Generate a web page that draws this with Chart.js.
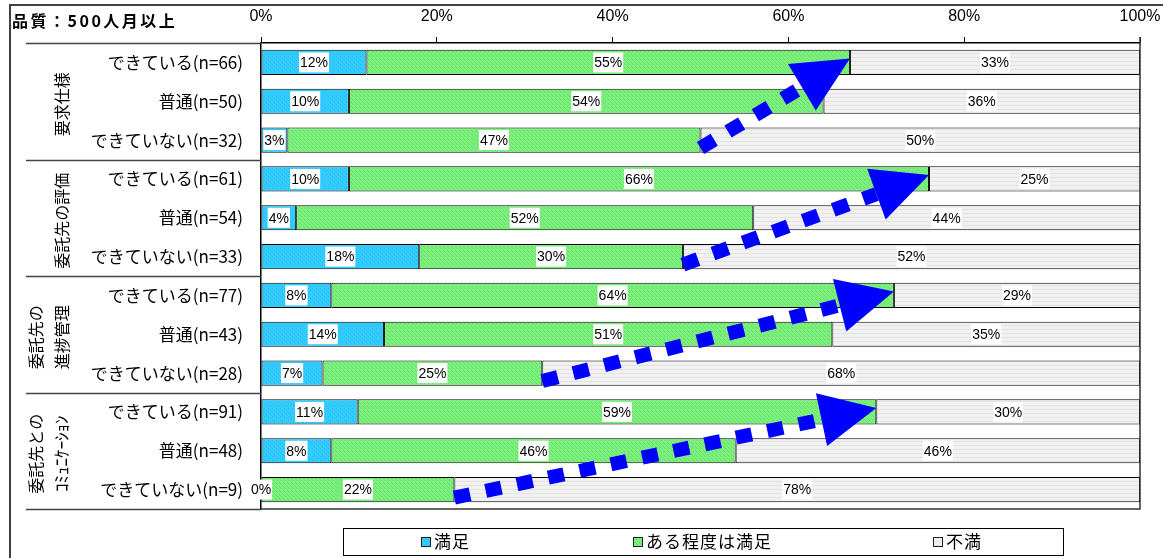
<!DOCTYPE html>
<html lang="ja">
<head>
<meta charset="utf-8">
<title>品質：500人月以上</title>
<script src="https://cdn.jsdelivr.net/npm/chart.js@4.4.1/dist/chart.umd.min.js"></script>
<style>
  html, body { margin: 0; padding: 0; background: #fff; }
  #wrap { position: relative; width: 1163px; height: 558px; }
</style>
</head>
<body>
<div id="wrap"><canvas id="quality-chart"></canvas></div>
<script>
const titleText = '品質：500人月以上';
const rowLabels = [
  'できている(n=66)', '普通(n=50)', 'できていない(n=32)',
  'できている(n=61)', '普通(n=54)', 'できていない(n=33)',
  'できている(n=77)', '普通(n=43)', 'できていない(n=28)',
  'できている(n=91)', '普通(n=48)', 'できていない(n=9)'
];
const groupLabels = [
  ['要求仕様'],
  ['委託先の評価'],
  ['委託先の', '進捗管理'],
  ['委託先との', 'ｺﾐｭﾆｹｰｼｮﾝ']
];
const seriesNames = ['満足', 'ある程度は満足', '不満'];
const satisfied   = [12, 10, 3, 10, 4, 18, 8, 14, 7, 11, 8, 0];
const partly      = [55, 54, 47, 66, 52, 30, 64, 51, 25, 59, 46, 22];
const unsatisfied = [33, 36, 50, 25, 44, 52, 29, 35, 68, 30, 46, 78];

const JP = '"Noto Sans CJK JP", "Noto Sans", sans-serif';
const NUM = '"Liberation Sans", Arial, sans-serif';

// small tiled fills, like the old office chart textures
function makePattern(base, mark, kind) {
  const c = document.createElement('canvas');
  c.width = 4; c.height = 4;
  const g = c.getContext('2d');
  g.fillStyle = base;
  g.fillRect(0, 0, 4, 4);
  g.fillStyle = mark;
  if (kind === 'dots') {
    g.fillRect(0, 0, 1, 1); g.fillRect(2, 2, 1, 1);
  } else if (kind === 'check') {
    g.fillRect(1, 0, 1, 1); g.fillRect(3, 2, 1, 1); g.fillRect(0, 3, 1, 1);
  } else {
    g.fillRect(0, 1, 4, 1);
  }
  return g.createPattern(c, 'repeat');
}
const blueFill  = makePattern('#33ccff', '#2ab8ee', 'dots');
const greenFill = makePattern('#7cf07c', '#66dd66', 'check');
const greyFill  = makePattern('#f1f1f1', '#e2e2e2', 'lines');

// percentage labels in white boxes at the middle of each segment
const segmentLabels = {
  id: 'segmentLabels',
  afterDatasetsDraw(chart) {
    const ctx = chart.ctx;
    const area = chart.chartArea;
    ctx.save();
    ctx.font = '14px ' + NUM;
    ctx.textAlign = 'center';
    ctx.textBaseline = 'middle';
    chart.data.datasets.forEach((ds, di) => {
      chart.getDatasetMeta(di).data.forEach((bar, i) => {
        const a = Math.max(Math.min(bar.x, bar.base), area.left);
        const b = Math.min(Math.max(bar.x, bar.base), area.right);
        const cx = (a + b) / 2;
        const txt = ds.data[i] + '%';
        const w = ctx.measureText(txt).width + 2;
        ctx.fillStyle = '#fff';
        ctx.fillRect(cx - w / 2, bar.y - 10, w, 20);
        ctx.fillStyle = '#000';
        ctx.fillText(txt, cx, bar.y + 1);
      });
    });
    ctx.restore();
  }
};

// frame, title, group labels, separators, legend
const decorations = {
  id: 'decorations',
  afterDraw(chart) {
    const ctx = chart.ctx;
    const area = chart.chartArea;
    const yS = chart.scales.y;
    const rowH = (area.bottom - area.top) / rowLabels.length;
    ctx.save();

    // outer frame
    ctx.strokeStyle = '#404040';
    ctx.lineWidth = 2;
    ctx.beginPath();
    ctx.moveTo(10, 560); ctx.lineTo(10, 5); ctx.lineTo(1165, 5);
    ctx.stroke();

    // plot border
    ctx.strokeStyle = '#333';
    ctx.lineWidth = 1.5;
    ctx.beginPath();
    ctx.moveTo(area.right, area.top - 6); ctx.lineTo(area.right, area.bottom);
    ctx.lineTo(area.left, area.bottom);
    ctx.stroke();

    // title
    ctx.fillStyle = '#000';
    ctx.font = 'bold 16px ' + JP;
    ctx.textAlign = 'left';
    ctx.textBaseline = 'middle';
    ctx.letterSpacing = '2.5px';
    ctx.fillText(titleText, 12, 21);
    ctx.letterSpacing = '0px';

    // group separators in the label column
    ctx.strokeStyle = '#444';
    ctx.lineWidth = 1.5;
    for (let k = 0; k <= groupLabels.length; k++) {
      const y = Math.round(area.top + k * 3 * rowH) + 0.5;
      ctx.beginPath();
      ctx.moveTo(26, y); ctx.lineTo(area.left, y);
      ctx.stroke();
    }

    // rotated group titles
    ctx.textAlign = 'center';
    ctx.textBaseline = 'middle';
    groupLabels.forEach((lines, g) => {
      const cy = (yS.getPixelForValue(g * 3) + yS.getPixelForValue(g * 3 + 2)) / 2 + 3;
      const xs = lines.length === 1 ? [62] : [36, 62];
      lines.forEach((t, j) => {
        ctx.font = (/[ｦ-ﾟ]/.test(t) ? '17px ' : '16px ') + JP;
        ctx.save();
        ctx.translate(xs[j], cy);
        ctx.rotate(-Math.PI / 2);
        ctx.fillText(t, 0, 0);
        ctx.restore();
      });
    });

    // legend box
    ctx.strokeStyle = '#000';
    ctx.lineWidth = 1;
    ctx.strokeRect(343.5, 528.5, 720, 27);
    const items = [[421, blueFill], [633, greenFill], [933, greyFill]];
    ctx.font = '17px ' + JP;
    ctx.letterSpacing = '1px';
    ctx.textAlign = 'left';
    items.forEach(([x, fill], i) => {
      ctx.fillStyle = fill;
      ctx.fillRect(x, 537, 10, 10);
      ctx.strokeStyle = '#222';
      ctx.strokeRect(x + 0.5, 537.5, 9, 9);
      ctx.fillStyle = '#000';
      ctx.fillText(chart.data.datasets[i].label, x + 13, 542);
    });
    ctx.letterSpacing = '0px';
    ctx.restore();
  }
};

// dashed blue arrows from the weakest row to the strongest row in each group
const trendArrows = {
  id: 'trendArrows',
  afterDraw(chart) {
    const ctx = chart.ctx;
    const xS = chart.scales.x, yS = chart.scales.y;
    ctx.save();
    ctx.fillStyle = '#0000ff';
    ctx.strokeStyle = '#0000ff';
    for (let g = 0; g < groupLabels.length; g++) {
      const from = g * 3 + 2, to = g * 3;
      const x0 = xS.getPixelForValue(satisfied[from] + partly[from]);
      const y0 = yS.getPixelForValue(from) + 8;
      const x1 = xS.getPixelForValue(satisfied[to] + partly[to]);
      const y1 = yS.getPixelForValue(to) - 4;
      const ang = Math.atan2(y1 - y0, x1 - x0);
      const headLen = 56, headW = 27;
      const bx = x1 - headLen * Math.cos(ang), by = y1 - headLen * Math.sin(ang);
      ctx.lineWidth = 14;
      ctx.lineCap = 'butt';
      ctx.setLineDash([16, 16]);
      ctx.beginPath();
      ctx.moveTo(x0, y0); ctx.lineTo(bx, by);
      ctx.stroke();
      ctx.setLineDash([]);
      ctx.beginPath();
      ctx.moveTo(x1, y1);
      ctx.lineTo(bx + headW * Math.sin(ang), by - headW * Math.cos(ang));
      ctx.lineTo(bx - headW * Math.sin(ang), by + headW * Math.cos(ang));
      ctx.closePath();
      ctx.fill();
    }
    ctx.restore();
  }
};

const commonBar = {
  borderColor: '#000',
  borderWidth: 1,
  borderSkipped: false,
  categoryPercentage: 1,
  barPercentage: 0.65
};

const config = {
  type: 'bar',
  data: {
    labels: rowLabels,
    datasets: [
      Object.assign({ label: seriesNames[0], data: satisfied, backgroundColor: blueFill }, commonBar),
      Object.assign({ label: seriesNames[1], data: partly, backgroundColor: greenFill }, commonBar),
      Object.assign({ label: seriesNames[2], data: unsatisfied, backgroundColor: greyFill }, commonBar)
    ]
  },
  options: {
    indexAxis: 'y',
    responsive: true,
    maintainAspectRatio: false,
    animation: false,
    layout: { padding: { left: 0, right: 23, top: 0, bottom: 49 } },
    plugins: {
      legend: { display: false },
      tooltip: { enabled: false }
    },
    scales: {
      x: {
        position: 'top',
        stacked: true,
        min: 0,
        max: 100,
        afterFit: s => { s.height = 43; s.paddingLeft = 0; s.paddingRight = 0; },
        grid: { drawOnChartArea: false, drawTicks: true, tickLength: 6, color: '#000' },
        border: { display: true, color: '#000', width: 1.5 },
        ticks: {
          stepSize: 20,
          padding: 11,
          color: '#000',
          font: { size: 16, family: NUM },
          callback: v => v + '%'
        }
      },
      y: {
        stacked: true,
        afterFit: s => { s.width = 261; s.paddingTop = 0; s.paddingBottom = 0; },
        grid: { drawOnChartArea: false, drawTicks: false },
        border: { display: true, color: '#000', width: 1.5 },
        ticks: {
          padding: 18,
          color: '#000',
          font: { size: 17, family: JP }
        }
      }
    }
  },
  plugins: [segmentLabels, decorations, trendArrows]
};

const qualityChart = new Chart(document.getElementById('quality-chart'), config);
</script>
</body>
</html>
